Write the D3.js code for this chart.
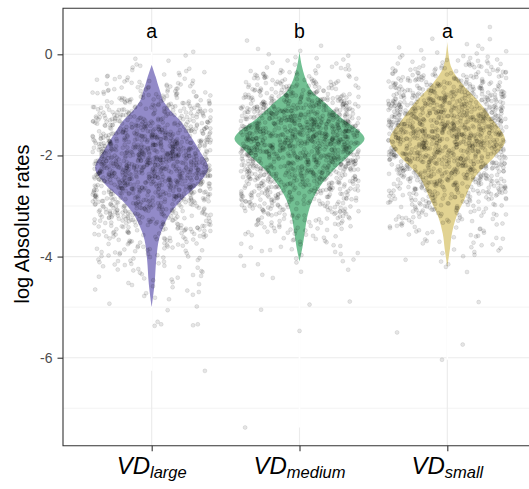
<!DOCTYPE html>
<html><head><meta charset="utf-8">
<script src="https://cdn.jsdelivr.net/npm/d3@7"></script>
<style>html,body{margin:0;padding:0;background:#fff;}svg{display:block;font-family:"Liberation Sans",Arial,sans-serif;}</style>
</head><body>
<svg id="chart" width="529" height="489"></svg>
<script>
// ---- data ----
const categories = ["large", "medium", "small"];
const groupLetters = ["a", "b", "a"];
const letterValue = 0.46;
const yMajorTicks = [0, -2, -4, -6];
const yMinorTicks = [-1, -3, -5, -7];
const yTickLabels = ["0", "-2", "-4", "-6"];
const yTitle = "log Absolute rates";

// violin outlines: value and relative half-width
const violinLargeValues = [-0.21, -0.44, -0.57, -0.77, -0.90, -1.10, -1.30, -1.56, -1.89, -2.25, -2.55, -2.88, -3.14, -3.41, -3.67, -4.07, -4.53, -5.0];
const violinLargeWidths = [0, 0.06, 0.09, 0.14, 0.17, 0.28, 0.43, 0.57, 0.73, 0.87, 0.73, 0.46, 0.29, 0.18, 0.11, 0.07, 0.045, 0];
const violinMediumValues = [0.05, -0.25, -0.57, -0.77, -0.90, -1.23, -1.66, -1.89, -2.22, -2.55, -2.88, -3.21, -3.55, -3.81, -4.10];
const violinMediumWidths = [0, 0.04, 0.12, 0.22, 0.34, 0.62, 1.0, 0.85, 0.58, 0.35, 0.2, 0.12, 0.077, 0.046, 0];
const violinSmallValues = [0.25, -0.25, -0.57, -0.90, -1.23, -1.70, -2.03, -2.42, -2.88, -3.21, -3.55, -3.85, -4.20];
const violinSmallWidths = [0, 0.06, 0.22, 0.46, 0.66, 0.89, 0.72, 0.43, 0.26, 0.14, 0.07, 0.04, 0];

const pointsLargeValues = [0.15, -0.3, -0.8, -1.3, -1.8, -2.3, -2.8, -3.3, -3.8, -4.3, -4.8, -5.1];
const pointsLargeDensity = [0, 0.06, 0.3, 0.6, 0.9, 1, 0.7, 0.45, 0.2, 0.1, 0.05, 0];
const pointsMediumValues = [0.3, -0.2, -0.6, -1.1, -1.6, -2.1, -2.6, -3.1, -3.6, -4.1, -4.6];
const pointsMediumDensity = [0, 0.08, 0.35, 0.8, 1, 0.85, 0.6, 0.35, 0.12, 0.05, 0];
const pointsSmallValues = [0.4, 0, -0.4, -0.9, -1.4, -1.9, -2.4, -2.9, -3.4, -3.9, -4.4];
const pointsSmallDensity = [0, 0.08, 0.4, 0.8, 1, 0.9, 0.7, 0.4, 0.15, 0.06, 0];
const pointsPerGroup = [1250, 1250, 1250];
// isolated points: [value, jitter offset as fraction of jitter half-width]
const outliersLarge = [[-5.37, 0.05], [-5.34, 0.16], [-5.29, 0.1], [-5.36, 0.7], [-5.34, 0.78], [-6.26, 0.9], [-5.06, 0.27]];
const outliersMedium = [[-5.05, -0.65], [-4.95, 0.17], [-5.47, 0.0], [-7.38, -0.92], [-4.89, 0.85]];
const outliersSmall = [[-5.5, -0.85], [-5.74, 0.26], [-6.04, -0.09], [-4.9, 0.53], [0.54, 0.72], [0.3, 0.72]];

const violinColors = ["#928ac8", "#72c093", "#e2d392"];

// ---- layout ----
const svg = d3.select("#chart");
const pLeft = 63, pRight = 536, pTop = 8.3, pBottom = 445.7;

const x = d3.scalePoint().domain(categories).range([pLeft, pRight]).padding(0.6);
const y = d3.scaleLinear().domain([-7.74, 0.91]).range([pBottom, pTop]);
const w = d3.scaleLinear().domain([0, 1]).range([0, 65]);
const jitterHalf = 0.4 * x.step();

const g = svg.append("g");

// grid
g.selectAll(".minor").data(yMinorTicks).join("line")
  .attr("x1", pLeft).attr("x2", pRight).attr("y1", d => y(d)).attr("y2", d => y(d))
  .attr("stroke", "#ebebeb").attr("stroke-width", 0.6);
g.selectAll(".major").data(yMajorTicks).join("line")
  .attr("x1", pLeft).attr("x2", pRight).attr("y1", d => y(d)).attr("y2", d => y(d))
  .attr("stroke", "#ebebeb").attr("stroke-width", 1.1);
g.selectAll(".vmajor").data(categories).join("line")
  .attr("x1", d => x(d)).attr("x2", d => x(d)).attr("y1", pTop).attr("y2", pBottom)
  .attr("stroke", "#ebebeb").attr("stroke-width", 1.1);

// build point sets (quantiles of the read density profile)
function sampler(vals, dens) {
  const lo = d3.min(vals), hi = d3.max(vals);
  const f = d3.scaleLinear().domain(vals).range(dens);
  const steps = 800;
  const grid = d3.range(steps + 1).map(i => lo + (hi - lo) * i / steps);
  const cum = [0];
  for (let i = 1; i <= steps; i++) cum.push(cum[i - 1] + (f(grid[i]) + f(grid[i - 1])) / 2 + 1e-9);
  const tot = cum[steps];
  const inv = d3.scaleLinear().domain(cum.map(c => c / tot)).range(grid);
  return q => inv(q);
}
const pointProfiles = [
  [pointsLargeValues, pointsLargeDensity, outliersLarge],
  [pointsMediumValues, pointsMediumDensity, outliersMedium],
  [pointsSmallValues, pointsSmallDensity, outliersSmall]
];
const a2 = 0.5698402909980532;
function jitterOffset(k) { const s = Math.sin(k * 78.233 + 1.7) * 43758.5453; return (s - Math.floor(s)) * 2 - 1; }
const allPoints = [];
pointProfiles.forEach(([vals, dens, outs], gi) => {
  const s = sampler(vals, dens);
  const cat = categories[gi];
  for (let i = 0; i < pointsPerGroup[gi]; i++) {
    const k = i + 1 + gi * 7919;
    const v = (0.5 + a2 * k) % 1;
    allPoints.push({cat, value: s(v), off: jitterOffset(k)});
  }
  outs.forEach(o => allPoints.push({cat, value: o[0], off: o[1]}));
});

// white cover of the vertical grid over each group's data range
categories.forEach(cat => {
  const pts = allPoints.filter(p => p.cat === cat);
  g.append("line").attr("x1", x(cat)).attr("x2", x(cat))
    .attr("y1", y(d3.max(pts, p => p.value))).attr("y2", y(d3.min(pts, p => p.value)))
    .attr("stroke", "#fff").attr("stroke-width", 1.6);
});

// violins
const violins = [
  [violinLargeValues, violinLargeWidths],
  [violinMediumValues, violinMediumWidths],
  [violinSmallValues, violinSmallWidths]
];
violins.forEach(([vals, wid], gi) => {
  const cx = x(categories[gi]);
  const data = vals.map((v, i) => ({v, h: wid[i]}));
  const area = d3.area().curve(d3.curveCatmullRom.alpha(0.5))
    .y(d => y(d.v)).x0(d => cx - w(d.h)).x1(d => cx + w(d.h));
  g.append("path").attr("d", area(data)).attr("fill", violinColors[gi]);
});

// points
g.selectAll(".pt").data(allPoints).join("circle")
  .attr("cx", d => x(d.cat) + d.off * jitterHalf)
  .attr("cy", d => y(d.value))
  .attr("r", 2.0)
  .attr("fill", "#000").attr("fill-opacity", 0.1)
  .attr("stroke", "#000").attr("stroke-opacity", 0.12).attr("stroke-width", 0.7);

// letters
g.selectAll(".let").data(categories).join("text")
  .attr("x", d => x(d)).attr("y", y(letterValue)).attr("dy", "0.36em")
  .attr("text-anchor", "middle").attr("font-size", 19.5).attr("fill", "#000")
  .text((d, i) => groupLetters[i]);

// panel border
g.append("path").attr("d", `M${pRight},${pTop}H${pLeft}V${pBottom}H${pRight}`)
  .attr("fill", "none").attr("stroke", "#333").attr("stroke-width", 1.1);

// y axis
const yAxis = d3.axisLeft(y).tickValues(yMajorTicks).tickSize(5.5).tickPadding(5)
  .tickFormat((d, i) => yTickLabels[i]);
const ya = svg.append("g").attr("transform", `translate(${pLeft},0)`).call(yAxis);
ya.select(".domain").remove();
ya.selectAll("line").attr("stroke", "#333").attr("stroke-width", 1.1);
ya.selectAll("text").attr("fill", "#4d4d4d").attr("font-size", 14)
  .attr("font-family", '"Liberation Sans",Arial,sans-serif');

// x axis
const xAxis = d3.axisBottom(x).tickSize(5.5).tickFormat("");
const xa = svg.append("g").attr("transform", `translate(0,${pBottom})`).call(xAxis);
xa.select(".domain").remove();
xa.selectAll("line").attr("stroke", "#333").attr("stroke-width", 1.1);
const xl = svg.selectAll(".xlab").data(categories).join("text")
  .attr("x", d => x(d)).attr("y", 473.5).attr("text-anchor", "middle")
  .attr("font-style", "italic").attr("fill", "#000");
xl.append("tspan").attr("font-size", 24).text("VD");
xl.append("tspan").attr("font-size", 16.5).attr("dy", 4).text(d => d);

// y title
svg.append("text").attr("transform", `translate(29,${(pTop + pBottom) / 2 - 3}) rotate(-90)`)
  .attr("text-anchor", "middle").attr("font-size", 20).attr("fill", "#000")
  .text(yTitle);
</script>
</body></html>
